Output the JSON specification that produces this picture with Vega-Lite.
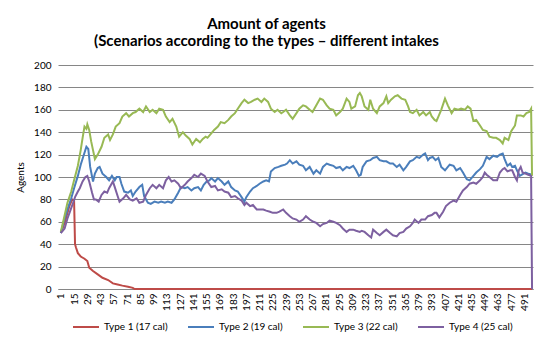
{
"$schema": "https://vega.github.io/schema/vega-lite/v6.json",
"width": 475, "height": 224,
"autosize": {"type": "none"},
"padding": {"left": 58, "top": 65, "right": 17, "bottom": 63},
"background": "white",
"title": {"text": ["Amount of agents", "(Scenarios according to the types – different intakes"], "font": "Lato", "fontSize": 15, "fontWeight": "bold", "color": "black", "anchor": "middle", "dx": -29, "offset": 11, "lineHeight": 17},
"data": {"values": [
{"s":"Type 1 (17 cal)","t":1,"v":50},{"s":"Type 1 (17 cal)","t":5,"v":59},{"s":"Type 1 (17 cal)","t":10,"v":74},{"s":"Type 1 (17 cal)","t":13,"v":80},{"s":"Type 1 (17 cal)","t":15,"v":79},{"s":"Type 1 (17 cal)","t":16,"v":40},{"s":"Type 1 (17 cal)","t":17,"v":37},{"s":"Type 1 (17 cal)","t":19,"v":32},{"s":"Type 1 (17 cal)","t":22,"v":29},{"s":"Type 1 (17 cal)","t":26,"v":27},{"s":"Type 1 (17 cal)","t":29,"v":25},{"s":"Type 1 (17 cal)","t":31,"v":19},{"s":"Type 1 (17 cal)","t":35,"v":16},{"s":"Type 1 (17 cal)","t":40,"v":13},{"s":"Type 1 (17 cal)","t":45,"v":10},{"s":"Type 1 (17 cal)","t":51,"v":8},{"s":"Type 1 (17 cal)","t":56,"v":5},{"s":"Type 1 (17 cal)","t":61,"v":4},{"s":"Type 1 (17 cal)","t":66,"v":3},{"s":"Type 1 (17 cal)","t":72,"v":2},{"s":"Type 1 (17 cal)","t":77,"v":1},{"s":"Type 1 (17 cal)","t":79,"v":0},{"s":"Type 1 (17 cal)","t":150,"v":0},{"s":"Type 1 (17 cal)","t":250,"v":0},{"s":"Type 1 (17 cal)","t":350,"v":0},{"s":"Type 1 (17 cal)","t":450,"v":0},{"s":"Type 1 (17 cal)","t":499,"v":0},
{"s":"Type 2 (19 cal)","t":1,"v":50},{"s":"Type 2 (19 cal)","t":4,"v":60},{"s":"Type 2 (19 cal)","t":8,"v":71},{"s":"Type 2 (19 cal)","t":12,"v":81},{"s":"Type 2 (19 cal)","t":15,"v":90},{"s":"Type 2 (19 cal)","t":19,"v":101},{"s":"Type 2 (19 cal)","t":22,"v":111},{"s":"Type 2 (19 cal)","t":25,"v":119},{"s":"Type 2 (19 cal)","t":28,"v":127},{"s":"Type 2 (19 cal)","t":30,"v":125},{"s":"Type 2 (19 cal)","t":32,"v":109},{"s":"Type 2 (19 cal)","t":35,"v":96},{"s":"Type 2 (19 cal)","t":37,"v":103},{"s":"Type 2 (19 cal)","t":40,"v":108},{"s":"Type 2 (19 cal)","t":42,"v":109},{"s":"Type 2 (19 cal)","t":45,"v":103},{"s":"Type 2 (19 cal)","t":49,"v":100},{"s":"Type 2 (19 cal)","t":52,"v":97},{"s":"Type 2 (19 cal)","t":55,"v":101},{"s":"Type 2 (19 cal)","t":58,"v":97},{"s":"Type 2 (19 cal)","t":60,"v":100},{"s":"Type 2 (19 cal)","t":63,"v":100},{"s":"Type 2 (19 cal)","t":65,"v":94},{"s":"Type 2 (19 cal)","t":68,"v":87},{"s":"Type 2 (19 cal)","t":72,"v":86},{"s":"Type 2 (19 cal)","t":75,"v":88},{"s":"Type 2 (19 cal)","t":77,"v":83},{"s":"Type 2 (19 cal)","t":80,"v":87},{"s":"Type 2 (19 cal)","t":84,"v":91},{"s":"Type 2 (19 cal)","t":87,"v":93},{"s":"Type 2 (19 cal)","t":89,"v":83},{"s":"Type 2 (19 cal)","t":93,"v":77},{"s":"Type 2 (19 cal)","t":96,"v":76},{"s":"Type 2 (19 cal)","t":100,"v":78},{"s":"Type 2 (19 cal)","t":104,"v":77},{"s":"Type 2 (19 cal)","t":107,"v":78},{"s":"Type 2 (19 cal)","t":111,"v":77},{"s":"Type 2 (19 cal)","t":114,"v":78},{"s":"Type 2 (19 cal)","t":118,"v":77},{"s":"Type 2 (19 cal)","t":121,"v":80},{"s":"Type 2 (19 cal)","t":125,"v":86},{"s":"Type 2 (19 cal)","t":128,"v":91},{"s":"Type 2 (19 cal)","t":132,"v":90},{"s":"Type 2 (19 cal)","t":135,"v":91},{"s":"Type 2 (19 cal)","t":139,"v":88},{"s":"Type 2 (19 cal)","t":142,"v":90},{"s":"Type 2 (19 cal)","t":146,"v":91},{"s":"Type 2 (19 cal)","t":149,"v":88},{"s":"Type 2 (19 cal)","t":152,"v":93},{"s":"Type 2 (19 cal)","t":155,"v":96},{"s":"Type 2 (19 cal)","t":158,"v":97},{"s":"Type 2 (19 cal)","t":160,"v":99},{"s":"Type 2 (19 cal)","t":164,"v":96},{"s":"Type 2 (19 cal)","t":167,"v":99},{"s":"Type 2 (19 cal)","t":171,"v":96},{"s":"Type 2 (19 cal)","t":174,"v":93},{"s":"Type 2 (19 cal)","t":178,"v":96},{"s":"Type 2 (19 cal)","t":181,"v":91},{"s":"Type 2 (19 cal)","t":185,"v":88},{"s":"Type 2 (19 cal)","t":188,"v":87},{"s":"Type 2 (19 cal)","t":192,"v":82},{"s":"Type 2 (19 cal)","t":195,"v":78},{"s":"Type 2 (19 cal)","t":197,"v":82},{"s":"Type 2 (19 cal)","t":201,"v":87},{"s":"Type 2 (19 cal)","t":204,"v":90},{"s":"Type 2 (19 cal)","t":208,"v":92},{"s":"Type 2 (19 cal)","t":211,"v":94},{"s":"Type 2 (19 cal)","t":215,"v":96},{"s":"Type 2 (19 cal)","t":218,"v":97},{"s":"Type 2 (19 cal)","t":221,"v":96},{"s":"Type 2 (19 cal)","t":223,"v":105},{"s":"Type 2 (19 cal)","t":227,"v":108},{"s":"Type 2 (19 cal)","t":231,"v":109},{"s":"Type 2 (19 cal)","t":234,"v":110},{"s":"Type 2 (19 cal)","t":238,"v":111},{"s":"Type 2 (19 cal)","t":240,"v":112},{"s":"Type 2 (19 cal)","t":243,"v":115},{"s":"Type 2 (19 cal)","t":246,"v":112},{"s":"Type 2 (19 cal)","t":250,"v":114},{"s":"Type 2 (19 cal)","t":253,"v":111},{"s":"Type 2 (19 cal)","t":257,"v":110},{"s":"Type 2 (19 cal)","t":260,"v":106},{"s":"Type 2 (19 cal)","t":264,"v":109},{"s":"Type 2 (19 cal)","t":268,"v":103},{"s":"Type 2 (19 cal)","t":271,"v":106},{"s":"Type 2 (19 cal)","t":275,"v":103},{"s":"Type 2 (19 cal)","t":278,"v":109},{"s":"Type 2 (19 cal)","t":282,"v":112},{"s":"Type 2 (19 cal)","t":285,"v":111},{"s":"Type 2 (19 cal)","t":289,"v":110},{"s":"Type 2 (19 cal)","t":292,"v":108},{"s":"Type 2 (19 cal)","t":296,"v":109},{"s":"Type 2 (19 cal)","t":299,"v":106},{"s":"Type 2 (19 cal)","t":303,"v":109},{"s":"Type 2 (19 cal)","t":306,"v":108},{"s":"Type 2 (19 cal)","t":310,"v":110},{"s":"Type 2 (19 cal)","t":313,"v":106},{"s":"Type 2 (19 cal)","t":316,"v":101},{"s":"Type 2 (19 cal)","t":318,"v":102},{"s":"Type 2 (19 cal)","t":320,"v":109},{"s":"Type 2 (19 cal)","t":324,"v":114},{"s":"Type 2 (19 cal)","t":328,"v":115},{"s":"Type 2 (19 cal)","t":331,"v":117},{"s":"Type 2 (19 cal)","t":335,"v":118},{"s":"Type 2 (19 cal)","t":338,"v":115},{"s":"Type 2 (19 cal)","t":342,"v":114},{"s":"Type 2 (19 cal)","t":345,"v":114},{"s":"Type 2 (19 cal)","t":349,"v":112},{"s":"Type 2 (19 cal)","t":352,"v":112},{"s":"Type 2 (19 cal)","t":356,"v":109},{"s":"Type 2 (19 cal)","t":359,"v":111},{"s":"Type 2 (19 cal)","t":363,"v":106},{"s":"Type 2 (19 cal)","t":366,"v":109},{"s":"Type 2 (19 cal)","t":370,"v":114},{"s":"Type 2 (19 cal)","t":373,"v":115},{"s":"Type 2 (19 cal)","t":377,"v":118},{"s":"Type 2 (19 cal)","t":380,"v":117},{"s":"Type 2 (19 cal)","t":384,"v":120},{"s":"Type 2 (19 cal)","t":386,"v":121},{"s":"Type 2 (19 cal)","t":389,"v":115},{"s":"Type 2 (19 cal)","t":391,"v":117},{"s":"Type 2 (19 cal)","t":394,"v":118},{"s":"Type 2 (19 cal)","t":397,"v":115},{"s":"Type 2 (19 cal)","t":400,"v":117},{"s":"Type 2 (19 cal)","t":403,"v":109},{"s":"Type 2 (19 cal)","t":407,"v":106},{"s":"Type 2 (19 cal)","t":410,"v":109},{"s":"Type 2 (19 cal)","t":412,"v":111},{"s":"Type 2 (19 cal)","t":416,"v":110},{"s":"Type 2 (19 cal)","t":419,"v":106},{"s":"Type 2 (19 cal)","t":423,"v":108},{"s":"Type 2 (19 cal)","t":426,"v":104},{"s":"Type 2 (19 cal)","t":430,"v":98},{"s":"Type 2 (19 cal)","t":433,"v":97},{"s":"Type 2 (19 cal)","t":437,"v":101},{"s":"Type 2 (19 cal)","t":440,"v":104},{"s":"Type 2 (19 cal)","t":444,"v":107},{"s":"Type 2 (19 cal)","t":447,"v":110},{"s":"Type 2 (19 cal)","t":449,"v":114},{"s":"Type 2 (19 cal)","t":451,"v":118},{"s":"Type 2 (19 cal)","t":454,"v":116},{"s":"Type 2 (19 cal)","t":458,"v":119},{"s":"Type 2 (19 cal)","t":462,"v":118},{"s":"Type 2 (19 cal)","t":465,"v":120},{"s":"Type 2 (19 cal)","t":468,"v":121},{"s":"Type 2 (19 cal)","t":470,"v":116},{"s":"Type 2 (19 cal)","t":473,"v":110},{"s":"Type 2 (19 cal)","t":476,"v":112},{"s":"Type 2 (19 cal)","t":478,"v":109},{"s":"Type 2 (19 cal)","t":481,"v":110},{"s":"Type 2 (19 cal)","t":483,"v":106},{"s":"Type 2 (19 cal)","t":486,"v":101},{"s":"Type 2 (19 cal)","t":490,"v":103},{"s":"Type 2 (19 cal)","t":492,"v":104},{"s":"Type 2 (19 cal)","t":495,"v":103},{"s":"Type 2 (19 cal)","t":499,"v":102},
{"s":"Type 3 (22 cal)","t":1,"v":51},{"s":"Type 3 (22 cal)","t":4,"v":62},{"s":"Type 3 (22 cal)","t":8,"v":77},{"s":"Type 3 (22 cal)","t":12,"v":87},{"s":"Type 3 (22 cal)","t":15,"v":97},{"s":"Type 3 (22 cal)","t":19,"v":110},{"s":"Type 3 (22 cal)","t":22,"v":124},{"s":"Type 3 (22 cal)","t":24,"v":135},{"s":"Type 3 (22 cal)","t":26,"v":145},{"s":"Type 3 (22 cal)","t":28,"v":143},{"s":"Type 3 (22 cal)","t":29,"v":147},{"s":"Type 3 (22 cal)","t":31,"v":142},{"s":"Type 3 (22 cal)","t":33,"v":132},{"s":"Type 3 (22 cal)","t":35,"v":124},{"s":"Type 3 (22 cal)","t":37,"v":116},{"s":"Type 3 (22 cal)","t":40,"v":120},{"s":"Type 3 (22 cal)","t":44,"v":127},{"s":"Type 3 (22 cal)","t":47,"v":135},{"s":"Type 3 (22 cal)","t":51,"v":138},{"s":"Type 3 (22 cal)","t":53,"v":133},{"s":"Type 3 (22 cal)","t":56,"v":138},{"s":"Type 3 (22 cal)","t":59,"v":145},{"s":"Type 3 (22 cal)","t":63,"v":148},{"s":"Type 3 (22 cal)","t":66,"v":154},{"s":"Type 3 (22 cal)","t":70,"v":157},{"s":"Type 3 (22 cal)","t":73,"v":154},{"s":"Type 3 (22 cal)","t":77,"v":157},{"s":"Type 3 (22 cal)","t":80,"v":158},{"s":"Type 3 (22 cal)","t":84,"v":161},{"s":"Type 3 (22 cal)","t":88,"v":158},{"s":"Type 3 (22 cal)","t":91,"v":163},{"s":"Type 3 (22 cal)","t":95,"v":158},{"s":"Type 3 (22 cal)","t":98,"v":160},{"s":"Type 3 (22 cal)","t":102,"v":157},{"s":"Type 3 (22 cal)","t":105,"v":161},{"s":"Type 3 (22 cal)","t":109,"v":160},{"s":"Type 3 (22 cal)","t":112,"v":154},{"s":"Type 3 (22 cal)","t":116,"v":149},{"s":"Type 3 (22 cal)","t":119,"v":152},{"s":"Type 3 (22 cal)","t":123,"v":145},{"s":"Type 3 (22 cal)","t":126,"v":136},{"s":"Type 3 (22 cal)","t":130,"v":140},{"s":"Type 3 (22 cal)","t":133,"v":137},{"s":"Type 3 (22 cal)","t":137,"v":134},{"s":"Type 3 (22 cal)","t":140,"v":129},{"s":"Type 3 (22 cal)","t":144,"v":134},{"s":"Type 3 (22 cal)","t":148,"v":131},{"s":"Type 3 (22 cal)","t":151,"v":134},{"s":"Type 3 (22 cal)","t":154,"v":136},{"s":"Type 3 (22 cal)","t":156,"v":135},{"s":"Type 3 (22 cal)","t":160,"v":139},{"s":"Type 3 (22 cal)","t":163,"v":142},{"s":"Type 3 (22 cal)","t":167,"v":145},{"s":"Type 3 (22 cal)","t":170,"v":149},{"s":"Type 3 (22 cal)","t":174,"v":148},{"s":"Type 3 (22 cal)","t":178,"v":151},{"s":"Type 3 (22 cal)","t":181,"v":154},{"s":"Type 3 (22 cal)","t":185,"v":157},{"s":"Type 3 (22 cal)","t":188,"v":161},{"s":"Type 3 (22 cal)","t":192,"v":166},{"s":"Type 3 (22 cal)","t":195,"v":169},{"s":"Type 3 (22 cal)","t":199,"v":166},{"s":"Type 3 (22 cal)","t":202,"v":167},{"s":"Type 3 (22 cal)","t":206,"v":169},{"s":"Type 3 (22 cal)","t":209,"v":170},{"s":"Type 3 (22 cal)","t":213,"v":167},{"s":"Type 3 (22 cal)","t":216,"v":170},{"s":"Type 3 (22 cal)","t":220,"v":167},{"s":"Type 3 (22 cal)","t":223,"v":161},{"s":"Type 3 (22 cal)","t":227,"v":158},{"s":"Type 3 (22 cal)","t":230,"v":160},{"s":"Type 3 (22 cal)","t":234,"v":157},{"s":"Type 3 (22 cal)","t":236,"v":158},{"s":"Type 3 (22 cal)","t":239,"v":160},{"s":"Type 3 (22 cal)","t":243,"v":155},{"s":"Type 3 (22 cal)","t":246,"v":152},{"s":"Type 3 (22 cal)","t":250,"v":157},{"s":"Type 3 (22 cal)","t":253,"v":161},{"s":"Type 3 (22 cal)","t":257,"v":164},{"s":"Type 3 (22 cal)","t":260,"v":163},{"s":"Type 3 (22 cal)","t":264,"v":160},{"s":"Type 3 (22 cal)","t":267,"v":158},{"s":"Type 3 (22 cal)","t":271,"v":164},{"s":"Type 3 (22 cal)","t":275,"v":170},{"s":"Type 3 (22 cal)","t":278,"v":169},{"s":"Type 3 (22 cal)","t":282,"v":164},{"s":"Type 3 (22 cal)","t":285,"v":161},{"s":"Type 3 (22 cal)","t":289,"v":160},{"s":"Type 3 (22 cal)","t":292,"v":155},{"s":"Type 3 (22 cal)","t":296,"v":158},{"s":"Type 3 (22 cal)","t":299,"v":161},{"s":"Type 3 (22 cal)","t":303,"v":170},{"s":"Type 3 (22 cal)","t":306,"v":167},{"s":"Type 3 (22 cal)","t":308,"v":161},{"s":"Type 3 (22 cal)","t":312,"v":163},{"s":"Type 3 (22 cal)","t":315,"v":173},{"s":"Type 3 (22 cal)","t":317,"v":175},{"s":"Type 3 (22 cal)","t":319,"v":172},{"s":"Type 3 (22 cal)","t":322,"v":163},{"s":"Type 3 (22 cal)","t":326,"v":160},{"s":"Type 3 (22 cal)","t":328,"v":169},{"s":"Type 3 (22 cal)","t":331,"v":161},{"s":"Type 3 (22 cal)","t":335,"v":157},{"s":"Type 3 (22 cal)","t":338,"v":163},{"s":"Type 3 (22 cal)","t":342,"v":166},{"s":"Type 3 (22 cal)","t":345,"v":172},{"s":"Type 3 (22 cal)","t":347,"v":166},{"s":"Type 3 (22 cal)","t":350,"v":169},{"s":"Type 3 (22 cal)","t":354,"v":172},{"s":"Type 3 (22 cal)","t":357,"v":173},{"s":"Type 3 (22 cal)","t":361,"v":170},{"s":"Type 3 (22 cal)","t":365,"v":169},{"s":"Type 3 (22 cal)","t":368,"v":163},{"s":"Type 3 (22 cal)","t":370,"v":158},{"s":"Type 3 (22 cal)","t":373,"v":157},{"s":"Type 3 (22 cal)","t":377,"v":160},{"s":"Type 3 (22 cal)","t":380,"v":155},{"s":"Type 3 (22 cal)","t":384,"v":158},{"s":"Type 3 (22 cal)","t":387,"v":155},{"s":"Type 3 (22 cal)","t":391,"v":158},{"s":"Type 3 (22 cal)","t":393,"v":154},{"s":"Type 3 (22 cal)","t":396,"v":151},{"s":"Type 3 (22 cal)","t":398,"v":150},{"s":"Type 3 (22 cal)","t":400,"v":154},{"s":"Type 3 (22 cal)","t":403,"v":160},{"s":"Type 3 (22 cal)","t":407,"v":170},{"s":"Type 3 (22 cal)","t":410,"v":164},{"s":"Type 3 (22 cal)","t":414,"v":157},{"s":"Type 3 (22 cal)","t":417,"v":161},{"s":"Type 3 (22 cal)","t":421,"v":160},{"s":"Type 3 (22 cal)","t":424,"v":161},{"s":"Type 3 (22 cal)","t":428,"v":160},{"s":"Type 3 (22 cal)","t":431,"v":163},{"s":"Type 3 (22 cal)","t":434,"v":161},{"s":"Type 3 (22 cal)","t":437,"v":150},{"s":"Type 3 (22 cal)","t":440,"v":151},{"s":"Type 3 (22 cal)","t":444,"v":146},{"s":"Type 3 (22 cal)","t":447,"v":142},{"s":"Type 3 (22 cal)","t":451,"v":141},{"s":"Type 3 (22 cal)","t":454,"v":136},{"s":"Type 3 (22 cal)","t":458,"v":135},{"s":"Type 3 (22 cal)","t":461,"v":135},{"s":"Type 3 (22 cal)","t":465,"v":133},{"s":"Type 3 (22 cal)","t":468,"v":130},{"s":"Type 3 (22 cal)","t":470,"v":135},{"s":"Type 3 (22 cal)","t":474,"v":133},{"s":"Type 3 (22 cal)","t":477,"v":141},{"s":"Type 3 (22 cal)","t":481,"v":146},{"s":"Type 3 (22 cal)","t":483,"v":155},{"s":"Type 3 (22 cal)","t":487,"v":155},{"s":"Type 3 (22 cal)","t":490,"v":154},{"s":"Type 3 (22 cal)","t":493,"v":157},{"s":"Type 3 (22 cal)","t":496,"v":158},{"s":"Type 3 (22 cal)","t":498,"v":161},{"s":"Type 3 (22 cal)","t":499,"v":101},
{"s":"Type 4 (25 cal)","t":1,"v":50},{"s":"Type 4 (25 cal)","t":5,"v":54},{"s":"Type 4 (25 cal)","t":8,"v":63},{"s":"Type 4 (25 cal)","t":11,"v":70},{"s":"Type 4 (25 cal)","t":14,"v":77},{"s":"Type 4 (25 cal)","t":16,"v":82},{"s":"Type 4 (25 cal)","t":19,"v":87},{"s":"Type 4 (25 cal)","t":21,"v":90},{"s":"Type 4 (25 cal)","t":24,"v":96},{"s":"Type 4 (25 cal)","t":27,"v":100},{"s":"Type 4 (25 cal)","t":29,"v":101},{"s":"Type 4 (25 cal)","t":31,"v":96},{"s":"Type 4 (25 cal)","t":34,"v":86},{"s":"Type 4 (25 cal)","t":36,"v":80},{"s":"Type 4 (25 cal)","t":38,"v":80},{"s":"Type 4 (25 cal)","t":41,"v":78},{"s":"Type 4 (25 cal)","t":44,"v":84},{"s":"Type 4 (25 cal)","t":47,"v":87},{"s":"Type 4 (25 cal)","t":50,"v":86},{"s":"Type 4 (25 cal)","t":52,"v":90},{"s":"Type 4 (25 cal)","t":56,"v":96},{"s":"Type 4 (25 cal)","t":58,"v":91},{"s":"Type 4 (25 cal)","t":61,"v":83},{"s":"Type 4 (25 cal)","t":63,"v":78},{"s":"Type 4 (25 cal)","t":67,"v":81},{"s":"Type 4 (25 cal)","t":70,"v":84},{"s":"Type 4 (25 cal)","t":74,"v":80},{"s":"Type 4 (25 cal)","t":77,"v":79},{"s":"Type 4 (25 cal)","t":81,"v":81},{"s":"Type 4 (25 cal)","t":84,"v":77},{"s":"Type 4 (25 cal)","t":88,"v":78},{"s":"Type 4 (25 cal)","t":91,"v":84},{"s":"Type 4 (25 cal)","t":95,"v":90},{"s":"Type 4 (25 cal)","t":98,"v":93},{"s":"Type 4 (25 cal)","t":102,"v":90},{"s":"Type 4 (25 cal)","t":105,"v":93},{"s":"Type 4 (25 cal)","t":109,"v":90},{"s":"Type 4 (25 cal)","t":112,"v":97},{"s":"Type 4 (25 cal)","t":115,"v":100},{"s":"Type 4 (25 cal)","t":118,"v":96},{"s":"Type 4 (25 cal)","t":121,"v":97},{"s":"Type 4 (25 cal)","t":125,"v":94},{"s":"Type 4 (25 cal)","t":128,"v":90},{"s":"Type 4 (25 cal)","t":132,"v":93},{"s":"Type 4 (25 cal)","t":135,"v":96},{"s":"Type 4 (25 cal)","t":139,"v":99},{"s":"Type 4 (25 cal)","t":142,"v":102},{"s":"Type 4 (25 cal)","t":146,"v":100},{"s":"Type 4 (25 cal)","t":149,"v":103},{"s":"Type 4 (25 cal)","t":153,"v":101},{"s":"Type 4 (25 cal)","t":156,"v":96},{"s":"Type 4 (25 cal)","t":160,"v":91},{"s":"Type 4 (25 cal)","t":164,"v":92},{"s":"Type 4 (25 cal)","t":167,"v":88},{"s":"Type 4 (25 cal)","t":171,"v":89},{"s":"Type 4 (25 cal)","t":174,"v":87},{"s":"Type 4 (25 cal)","t":178,"v":86},{"s":"Type 4 (25 cal)","t":181,"v":82},{"s":"Type 4 (25 cal)","t":185,"v":83},{"s":"Type 4 (25 cal)","t":188,"v":81},{"s":"Type 4 (25 cal)","t":192,"v":79},{"s":"Type 4 (25 cal)","t":195,"v":75},{"s":"Type 4 (25 cal)","t":197,"v":77},{"s":"Type 4 (25 cal)","t":201,"v":74},{"s":"Type 4 (25 cal)","t":204,"v":75},{"s":"Type 4 (25 cal)","t":208,"v":71},{"s":"Type 4 (25 cal)","t":211,"v":71},{"s":"Type 4 (25 cal)","t":215,"v":71},{"s":"Type 4 (25 cal)","t":218,"v":70},{"s":"Type 4 (25 cal)","t":222,"v":69},{"s":"Type 4 (25 cal)","t":225,"v":68},{"s":"Type 4 (25 cal)","t":229,"v":68},{"s":"Type 4 (25 cal)","t":232,"v":69},{"s":"Type 4 (25 cal)","t":236,"v":71},{"s":"Type 4 (25 cal)","t":239,"v":68},{"s":"Type 4 (25 cal)","t":243,"v":65},{"s":"Type 4 (25 cal)","t":246,"v":63},{"s":"Type 4 (25 cal)","t":250,"v":62},{"s":"Type 4 (25 cal)","t":253,"v":60},{"s":"Type 4 (25 cal)","t":257,"v":62},{"s":"Type 4 (25 cal)","t":260,"v":65},{"s":"Type 4 (25 cal)","t":264,"v":62},{"s":"Type 4 (25 cal)","t":268,"v":60},{"s":"Type 4 (25 cal)","t":271,"v":59},{"s":"Type 4 (25 cal)","t":275,"v":56},{"s":"Type 4 (25 cal)","t":278,"v":58},{"s":"Type 4 (25 cal)","t":282,"v":59},{"s":"Type 4 (25 cal)","t":285,"v":61},{"s":"Type 4 (25 cal)","t":289,"v":60},{"s":"Type 4 (25 cal)","t":292,"v":59},{"s":"Type 4 (25 cal)","t":296,"v":57},{"s":"Type 4 (25 cal)","t":299,"v":54},{"s":"Type 4 (25 cal)","t":303,"v":51},{"s":"Type 4 (25 cal)","t":306,"v":53},{"s":"Type 4 (25 cal)","t":310,"v":53},{"s":"Type 4 (25 cal)","t":313,"v":52},{"s":"Type 4 (25 cal)","t":317,"v":51},{"s":"Type 4 (25 cal)","t":319,"v":52},{"s":"Type 4 (25 cal)","t":322,"v":51},{"s":"Type 4 (25 cal)","t":326,"v":48},{"s":"Type 4 (25 cal)","t":329,"v":46},{"s":"Type 4 (25 cal)","t":331,"v":53},{"s":"Type 4 (25 cal)","t":335,"v":50},{"s":"Type 4 (25 cal)","t":338,"v":48},{"s":"Type 4 (25 cal)","t":342,"v":51},{"s":"Type 4 (25 cal)","t":345,"v":53},{"s":"Type 4 (25 cal)","t":349,"v":50},{"s":"Type 4 (25 cal)","t":352,"v":48},{"s":"Type 4 (25 cal)","t":356,"v":47},{"s":"Type 4 (25 cal)","t":359,"v":50},{"s":"Type 4 (25 cal)","t":363,"v":51},{"s":"Type 4 (25 cal)","t":366,"v":54},{"s":"Type 4 (25 cal)","t":370,"v":56},{"s":"Type 4 (25 cal)","t":373,"v":59},{"s":"Type 4 (25 cal)","t":375,"v":62},{"s":"Type 4 (25 cal)","t":379,"v":59},{"s":"Type 4 (25 cal)","t":382,"v":62},{"s":"Type 4 (25 cal)","t":386,"v":62},{"s":"Type 4 (25 cal)","t":389,"v":65},{"s":"Type 4 (25 cal)","t":393,"v":66},{"s":"Type 4 (25 cal)","t":396,"v":68},{"s":"Type 4 (25 cal)","t":398,"v":68},{"s":"Type 4 (25 cal)","t":401,"v":64},{"s":"Type 4 (25 cal)","t":405,"v":69},{"s":"Type 4 (25 cal)","t":408,"v":74},{"s":"Type 4 (25 cal)","t":412,"v":77},{"s":"Type 4 (25 cal)","t":416,"v":79},{"s":"Type 4 (25 cal)","t":419,"v":78},{"s":"Type 4 (25 cal)","t":423,"v":84},{"s":"Type 4 (25 cal)","t":426,"v":88},{"s":"Type 4 (25 cal)","t":430,"v":91},{"s":"Type 4 (25 cal)","t":433,"v":94},{"s":"Type 4 (25 cal)","t":437,"v":95},{"s":"Type 4 (25 cal)","t":440,"v":94},{"s":"Type 4 (25 cal)","t":444,"v":97},{"s":"Type 4 (25 cal)","t":447,"v":100},{"s":"Type 4 (25 cal)","t":449,"v":104},{"s":"Type 4 (25 cal)","t":451,"v":102},{"s":"Type 4 (25 cal)","t":454,"v":100},{"s":"Type 4 (25 cal)","t":458,"v":97},{"s":"Type 4 (25 cal)","t":462,"v":97},{"s":"Type 4 (25 cal)","t":465,"v":104},{"s":"Type 4 (25 cal)","t":468,"v":107},{"s":"Type 4 (25 cal)","t":470,"v":108},{"s":"Type 4 (25 cal)","t":473,"v":105},{"s":"Type 4 (25 cal)","t":476,"v":106},{"s":"Type 4 (25 cal)","t":478,"v":106},{"s":"Type 4 (25 cal)","t":481,"v":100},{"s":"Type 4 (25 cal)","t":483,"v":97},{"s":"Type 4 (25 cal)","t":485,"v":106},{"s":"Type 4 (25 cal)","t":487,"v":109},{"s":"Type 4 (25 cal)","t":489,"v":104},{"s":"Type 4 (25 cal)","t":492,"v":103},{"s":"Type 4 (25 cal)","t":495,"v":102},{"s":"Type 4 (25 cal)","t":498,"v":101},{"s":"Type 4 (25 cal)","t":499,"v":0}
]},
"mark": {"type": "line", "strokeWidth": 2},
"encoding": {
  "x": {"field": "t", "type": "quantitative", "scale": {"domain": [-2, 500], "nice": false, "zero": false},
    "axis": {"values": [1,15,29,43,57,71,85,99,113,127,141,155,169,183,197,211,225,239,253,267,281,295,309,323,337,351,365,379,393,407,421,435,449,463,477,491],
      "labelAngle": -90, "title": null, "grid": false, "ticks": false, "labelFont": "Lato", "labelFontSize": 10, "labelColor": "black",
      "domainColor": "#868686", "labelPadding": 4, "labelFlush": false, "labelOverlap": false}},
  "y": {"field": "v", "type": "quantitative", "scale": {"domain": [0, 200], "nice": false},
    "axis": {"values": [0,20,40,60,80,100,120,140,160,180,200], "title": "Agents", "titleFont": "Lato", "titleFontSize": 10, "titleFontWeight": "normal", "titleColor": "black", "titlePadding": 8,
      "labelFont": "Lato", "labelFontSize": 10, "labelColor": "black", "labelPadding": 7, "ticks": false, "domain": false, "gridColor": "#868686", "gridOpacity": 1}},
  "color": {"field": "s", "type": "nominal",
    "scale": {"domain": ["Type 1 (17 cal)", "Type 2 (19 cal)", "Type 3 (22 cal)", "Type 4 (25 cal)"], "range": ["#BE4B48", "#4A7EBB", "#98B954", "#7D60A0"]},
    "legend": {"orient": "none", "legendX": 14, "legendY": 248, "direction": "horizontal", "columns": 4, "title": null, "symbolType": "stroke", "symbolSize": 676, "symbolStrokeWidth": 2,
      "labelFont": "Lato", "labelFontSize": 10, "labelColor": "black", "columnPadding": 16, "gridAlign": "all", "labelOffset": 4}}
},
"config": {"view": {"stroke": null}}
}
